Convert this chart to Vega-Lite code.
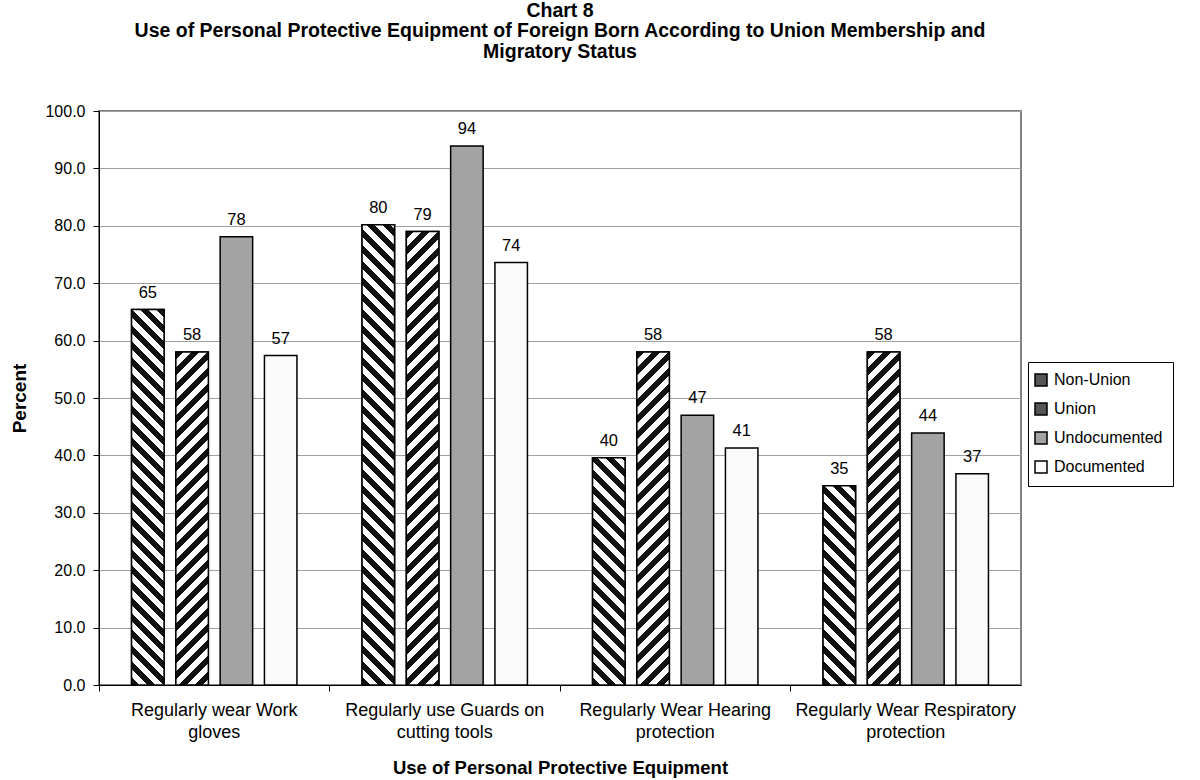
{
  "$schema": "https://vega.github.io/schema/vega-lite/v6.json",
  "width": 922,
  "height": 574,
  "autosize": {"type": "none"},
  "padding": {"left": 99, "top": 111, "right": 179, "bottom": 95},
  "background": "white",
  "config": {
    "font": "Liberation Sans",
    "view": {"stroke": "#808080", "strokeWidth": 2}
  },
  "params": [
    {"name": "stripes", "value": [
      {"offset":0,"color":"#111"},{"offset":0.0125,"color":"#111"},{"offset":0.0125,"color":"#fff"},{"offset":0.025,"color":"#fff"},
      {"offset":0.025,"color":"#111"},{"offset":0.0375,"color":"#111"},{"offset":0.0375,"color":"#fff"},{"offset":0.05,"color":"#fff"},
      {"offset":0.05,"color":"#111"},{"offset":0.0625,"color":"#111"},{"offset":0.0625,"color":"#fff"},{"offset":0.075,"color":"#fff"},
      {"offset":0.075,"color":"#111"},{"offset":0.0875,"color":"#111"},{"offset":0.0875,"color":"#fff"},{"offset":0.1,"color":"#fff"},
      {"offset":0.1,"color":"#111"},{"offset":0.1125,"color":"#111"},{"offset":0.1125,"color":"#fff"},{"offset":0.125,"color":"#fff"},
      {"offset":0.125,"color":"#111"},{"offset":0.1375,"color":"#111"},{"offset":0.1375,"color":"#fff"},{"offset":0.15,"color":"#fff"},
      {"offset":0.15,"color":"#111"},{"offset":0.1625,"color":"#111"},{"offset":0.1625,"color":"#fff"},{"offset":0.175,"color":"#fff"},
      {"offset":0.175,"color":"#111"},{"offset":0.1875,"color":"#111"},{"offset":0.1875,"color":"#fff"},{"offset":0.2,"color":"#fff"},
      {"offset":0.2,"color":"#111"},{"offset":0.2125,"color":"#111"},{"offset":0.2125,"color":"#fff"},{"offset":0.225,"color":"#fff"},
      {"offset":0.225,"color":"#111"},{"offset":0.2375,"color":"#111"},{"offset":0.2375,"color":"#fff"},{"offset":0.25,"color":"#fff"},
      {"offset":0.25,"color":"#111"},{"offset":0.2625,"color":"#111"},{"offset":0.2625,"color":"#fff"},{"offset":0.275,"color":"#fff"},
      {"offset":0.275,"color":"#111"},{"offset":0.2875,"color":"#111"},{"offset":0.2875,"color":"#fff"},{"offset":0.3,"color":"#fff"},
      {"offset":0.3,"color":"#111"},{"offset":0.3125,"color":"#111"},{"offset":0.3125,"color":"#fff"},{"offset":0.325,"color":"#fff"},
      {"offset":0.325,"color":"#111"},{"offset":0.3375,"color":"#111"},{"offset":0.3375,"color":"#fff"},{"offset":0.35,"color":"#fff"},
      {"offset":0.35,"color":"#111"},{"offset":0.3625,"color":"#111"},{"offset":0.3625,"color":"#fff"},{"offset":0.375,"color":"#fff"},
      {"offset":0.375,"color":"#111"},{"offset":0.3875,"color":"#111"},{"offset":0.3875,"color":"#fff"},{"offset":0.4,"color":"#fff"},
      {"offset":0.4,"color":"#111"},{"offset":0.4125,"color":"#111"},{"offset":0.4125,"color":"#fff"},{"offset":0.425,"color":"#fff"},
      {"offset":0.425,"color":"#111"},{"offset":0.4375,"color":"#111"},{"offset":0.4375,"color":"#fff"},{"offset":0.45,"color":"#fff"},
      {"offset":0.45,"color":"#111"},{"offset":0.4625,"color":"#111"},{"offset":0.4625,"color":"#fff"},{"offset":0.475,"color":"#fff"},
      {"offset":0.475,"color":"#111"},{"offset":0.4875,"color":"#111"},{"offset":0.4875,"color":"#fff"},{"offset":0.5,"color":"#fff"},
      {"offset":0.5,"color":"#111"},{"offset":0.5125,"color":"#111"},{"offset":0.5125,"color":"#fff"},{"offset":0.525,"color":"#fff"},
      {"offset":0.525,"color":"#111"},{"offset":0.5375,"color":"#111"},{"offset":0.5375,"color":"#fff"},{"offset":0.55,"color":"#fff"},
      {"offset":0.55,"color":"#111"},{"offset":0.5625,"color":"#111"},{"offset":0.5625,"color":"#fff"},{"offset":0.575,"color":"#fff"},
      {"offset":0.575,"color":"#111"},{"offset":0.5875,"color":"#111"},{"offset":0.5875,"color":"#fff"},{"offset":0.6,"color":"#fff"},
      {"offset":0.6,"color":"#111"},{"offset":0.6125,"color":"#111"},{"offset":0.6125,"color":"#fff"},{"offset":0.625,"color":"#fff"},
      {"offset":0.625,"color":"#111"},{"offset":0.6375,"color":"#111"},{"offset":0.6375,"color":"#fff"},{"offset":0.65,"color":"#fff"},
      {"offset":0.65,"color":"#111"},{"offset":0.6625,"color":"#111"},{"offset":0.6625,"color":"#fff"},{"offset":0.675,"color":"#fff"},
      {"offset":0.675,"color":"#111"},{"offset":0.6875,"color":"#111"},{"offset":0.6875,"color":"#fff"},{"offset":0.7,"color":"#fff"},
      {"offset":0.7,"color":"#111"},{"offset":0.7125,"color":"#111"},{"offset":0.7125,"color":"#fff"},{"offset":0.725,"color":"#fff"},
      {"offset":0.725,"color":"#111"},{"offset":0.7375,"color":"#111"},{"offset":0.7375,"color":"#fff"},{"offset":0.75,"color":"#fff"},
      {"offset":0.75,"color":"#111"},{"offset":0.7625,"color":"#111"},{"offset":0.7625,"color":"#fff"},{"offset":0.775,"color":"#fff"},
      {"offset":0.775,"color":"#111"},{"offset":0.7875,"color":"#111"},{"offset":0.7875,"color":"#fff"},{"offset":0.8,"color":"#fff"},
      {"offset":0.8,"color":"#111"},{"offset":0.8125,"color":"#111"},{"offset":0.8125,"color":"#fff"},{"offset":0.825,"color":"#fff"},
      {"offset":0.825,"color":"#111"},{"offset":0.8375,"color":"#111"},{"offset":0.8375,"color":"#fff"},{"offset":0.85,"color":"#fff"},
      {"offset":0.85,"color":"#111"},{"offset":0.8625,"color":"#111"},{"offset":0.8625,"color":"#fff"},{"offset":0.875,"color":"#fff"},
      {"offset":0.875,"color":"#111"},{"offset":0.8875,"color":"#111"},{"offset":0.8875,"color":"#fff"},{"offset":0.9,"color":"#fff"},
      {"offset":0.9,"color":"#111"},{"offset":0.9125,"color":"#111"},{"offset":0.9125,"color":"#fff"},{"offset":0.925,"color":"#fff"},
      {"offset":0.925,"color":"#111"},{"offset":0.9375,"color":"#111"},{"offset":0.9375,"color":"#fff"},{"offset":0.95,"color":"#fff"},
      {"offset":0.95,"color":"#111"},{"offset":0.9625,"color":"#111"},{"offset":0.9625,"color":"#fff"},{"offset":0.975,"color":"#fff"},
      {"offset":0.975,"color":"#111"},{"offset":0.9875,"color":"#111"},{"offset":0.9875,"color":"#fff"},{"offset":1,"color":"#fff"}
    ]}
  ],
  "title": {
    "text": ["Chart 8", "Use of Personal Protective Equipment of Foreign Born According to Union Membership and", "Migratory Status"],
    "fontSize": 19.5,
    "fontWeight": "bold",
    "color": "black",
    "anchor": "middle",
    "frame": "group",
    "lineHeight": 20.5,
    "offset": 41,
    "dx": 0
  },
  "data": {
    "values": [
      {"group": "Regularly wear Work gloves", "series": "Non-Union", "pct": 65.4},
      {"group": "Regularly wear Work gloves", "series": "Union", "pct": 58.0},
      {"group": "Regularly wear Work gloves", "series": "Undocumented", "pct": 78.1},
      {"group": "Regularly wear Work gloves", "series": "Documented", "pct": 57.4},
      {"group": "Regularly use Guards on cutting tools", "series": "Non-Union", "pct": 80.2},
      {"group": "Regularly use Guards on cutting tools", "series": "Union", "pct": 79.0},
      {"group": "Regularly use Guards on cutting tools", "series": "Undocumented", "pct": 93.9},
      {"group": "Regularly use Guards on cutting tools", "series": "Documented", "pct": 73.6},
      {"group": "Regularly Wear Hearing protection", "series": "Non-Union", "pct": 39.6},
      {"group": "Regularly Wear Hearing protection", "series": "Union", "pct": 58.0},
      {"group": "Regularly Wear Hearing protection", "series": "Undocumented", "pct": 47.0},
      {"group": "Regularly Wear Hearing protection", "series": "Documented", "pct": 41.3},
      {"group": "Regularly Wear Respiratory protection", "series": "Non-Union", "pct": 34.7},
      {"group": "Regularly Wear Respiratory protection", "series": "Union", "pct": 58.0},
      {"group": "Regularly Wear Respiratory protection", "series": "Undocumented", "pct": 43.9},
      {"group": "Regularly Wear Respiratory protection", "series": "Documented", "pct": 36.8}
    ]
  },
  "encoding": {
    "x": {
      "field": "group",
      "type": "nominal",
      "sort": ["Regularly wear Work gloves", "Regularly use Guards on cutting tools", "Regularly Wear Hearing protection", "Regularly Wear Respiratory protection"],
      "scale": {"paddingInner": 0, "paddingOuter": 0},
      "axis": {
        "title": "Use of Personal Protective Equipment",
        "titleFontSize": 18.5,
        "titleFontWeight": "bold",
        "titleColor": "black",
        "titleX": 461,
        "titleY": 82,
        "titleAlign": "center",
        "titleBaseline": "middle",
        "bandPosition": 0,
        "labelAngle": 0,
        "labelFontSize": 18,
        "labelColor": "black",
        "labelPadding": 10,
        "labelLineHeight": 22,
        "labelLimit": 400,
        "labelExpr": "datum.label == 'Regularly wear Work gloves' ? ['Regularly wear Work', 'gloves'] : datum.label == 'Regularly use Guards on cutting tools' ? ['Regularly use Guards on', 'cutting tools'] : datum.label == 'Regularly Wear Hearing protection' ? ['Regularly Wear Hearing', 'protection'] : ['Regularly Wear Respiratory', 'protection']",
        "tickSize": 6,
        "tickColor": "black",
        "domainColor": "black",
        "grid": false
      }
    },
    "xOffset": {
      "field": "series",
      "type": "nominal",
      "sort": ["Non-Union", "Union", "Undocumented", "Documented"],
      "scale": {"domain": ["Non-Union", "Union", "Undocumented", "Documented"], "paddingInner": 0.266, "paddingOuter": 0.735}
    },
    "y": {
      "field": "pct",
      "type": "quantitative",
      "scale": {"domain": [0, 100], "nice": false},
      "axis": {
        "values": [0, 10, 20, 30, 40, 50, 60, 70, 80, 90, 100],
        "format": ".1f",
        "title": "Percent",
        "titleFontSize": 19,
        "titleFontWeight": "bold",
        "titleColor": "black",
        "titleX": -80,
        "titleY": 287,
        "titleAlign": "center",
        "titleBaseline": "middle",
        "labelFontSize": 16,
        "labelColor": "black",
        "labelPadding": 8,
        "tickSize": 6,
        "tickColor": "black",
        "domainColor": "black",
        "gridColor": "#a0a0a0",
        "gridWidth": 1
      }
    }
  },
  "layer": [
    {
      "mark": {"type": "bar", "stroke": "black", "strokeWidth": 1.5},
      "encoding": {
        "fill": {
          "field": "series",
          "type": "nominal",
          "sort": ["Non-Union", "Union", "Undocumented", "Documented"],
          "scale": {"domain": ["Non-Union", "Union", "Undocumented", "Documented"], "range": ["#555555", "#555555", "#a3a3a3", "#fafafa"]},
          "legend": {
            "title": null,
            "orient": "none",
            "legendX": 929,
            "legendY": 251,
            "padding": 10,
            "strokeColor": "black",
            "fillColor": "white",
            "labelFontSize": 16,
            "labelColor": "black",
            "labelOffset": 5,
            "labelExpr": "datum.label + '\u00a0\u00a0\u00a0\u00a0\u00a0\u00a0\u00a0\u00a0\u00a0'",
            "symbolOffset": -5,
            "symbolType": "square",
            "symbolSize": 144,
            "symbolStrokeColor": "black",
            "symbolStrokeWidth": 1.5,
            "rowPadding": 11
          }
        }
      }
    },
    {
      "transform": [{"filter": "datum.series === 'Non-Union' || datum.series === 'Union'"}],
      "mark": {
        "type": "bar",
        "stroke": "black",
        "strokeWidth": 1.5,
        "fill": {"expr": "datum.series === 'Non-Union' ? {gradient: 'linear', x1: 0, y1: 1, x2: 640*bandwidth('xOffset')/(pow(bandwidth('xOffset'),2)+pow(scale('y',0)-scale('y',datum.pct),2)), y2: 1-640*(scale('y',0)-scale('y',datum.pct))/(pow(bandwidth('xOffset'),2)+pow(scale('y',0)-scale('y',datum.pct),2)), stops: stripes} : {gradient: 'linear', x1: 0, y1: 0, x2: 640*bandwidth('xOffset')/(pow(bandwidth('xOffset'),2)+pow(scale('y',0)-scale('y',datum.pct),2)), y2: 640*(scale('y',0)-scale('y',datum.pct))/(pow(bandwidth('xOffset'),2)+pow(scale('y',0)-scale('y',datum.pct),2)), stops: stripes}"}
      }
    },
    {
      "mark": {"type": "text", "baseline": "alphabetic", "dy": -12, "fontSize": 16.5, "color": "black"},
      "encoding": {
        "text": {"field": "pct", "type": "quantitative", "format": ".0f"}
      }
    }
  ]
}
